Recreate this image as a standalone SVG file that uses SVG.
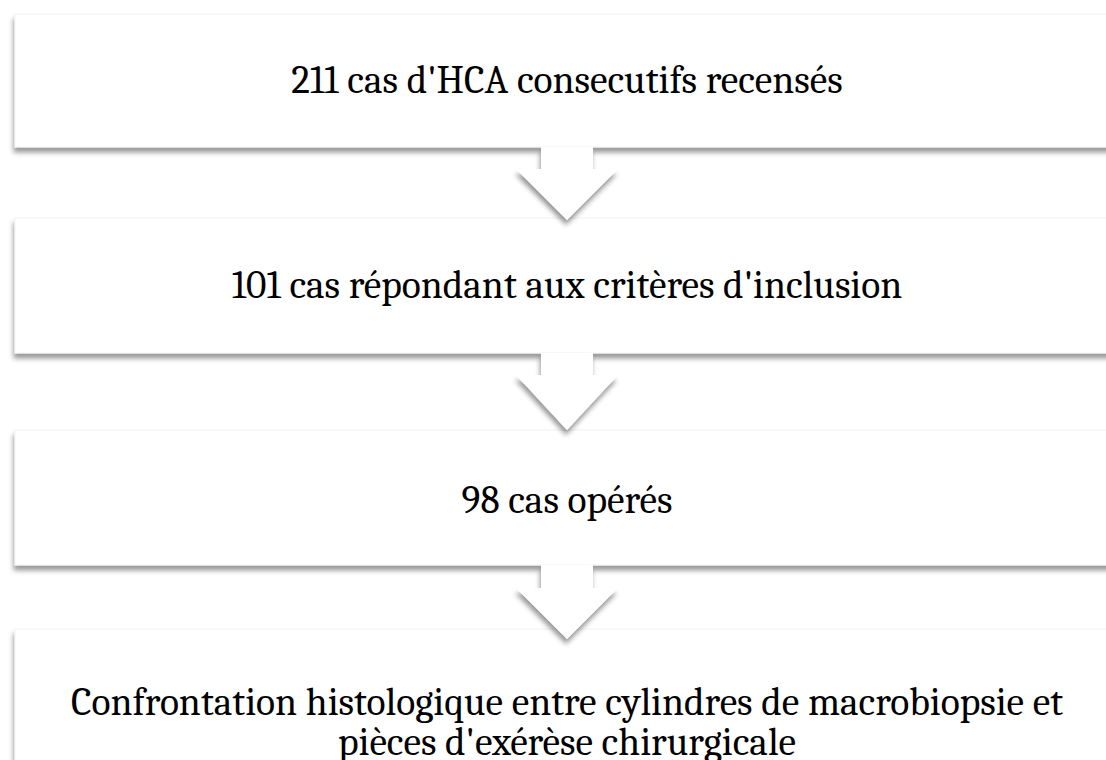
<svg xmlns="http://www.w3.org/2000/svg" width="1106" height="760" viewBox="0 0 1106 760">
<defs>
<filter id="sh" x="-10%" y="-20%" width="120%" height="150%">
<feDropShadow dx="-1" dy="5" stdDeviation="2.5" flood-color="#000" flood-opacity="0.4"/>
</filter>
</defs>
<style>
.box{fill:#fff;stroke:#f2f2f2;stroke-width:1;filter:url(#sh)}
.arr{fill:#fff;filter:url(#sh)}
.t{font-family:Cambria,"Liberation Serif","DejaVu Serif",serif;font-size:39.5px;fill:#000;text-anchor:middle}
</style>
<rect width="1106" height="760" fill="#fff"/>
<g id="nodes">
<g id="n1"><rect class="box" x="15" y="14" width="1110" height="133"/><text class="t" x="567" y="93">211 cas d'HCA consecutifs recensés</text></g>
<g id="n2"><rect class="box" x="15" y="218" width="1110" height="135"/><text class="t" x="567" y="298">101 cas répondant aux critères d'inclusion</text></g>
<g id="n3"><rect class="box" x="15" y="430" width="1110" height="135"/><text class="t" x="567" y="513">98 cas opérés</text></g>
<g id="n4"><rect class="box" x="15" y="629" width="1110" height="160"/><text class="t" x="567" y="715">Confrontation histologique entre cylindres de macrobiopsie et</text><text class="t" x="567" y="755">pièces d'exérèse chirurgicale</text></g>
</g>
<g id="connectors">
<polygon class="arr" points="541,147 593,147 593,169 618,169 567,220 516,169 541,169"/>
<polygon class="arr" points="541,353 593,353 593,375 618,375 567,430 516,375 541,375"/>
<polygon class="arr" points="541,565 593,565 593,588 618,588 567,639 516,588 541,588"/>
</g>
</svg>
